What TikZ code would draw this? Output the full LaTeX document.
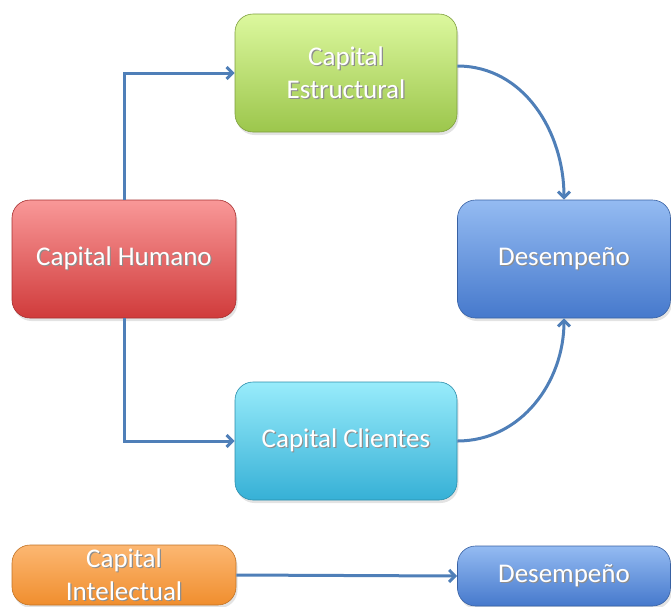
\documentclass[tikz,border=0pt]{standalone}
\usepackage{fontspec}
\setmainfont{Carlito}
\usetikzlibrary{arrows.meta,shadows}

\definecolor{linkblue}{HTML}{4F7FB8}
\definecolor{shtxt}{HTML}{404040}
\definecolor{grtop}{HTML}{DCF89E}
\definecolor{grbot}{HTML}{9CC64C}
\definecolor{rdtop}{HTML}{F99898}
\definecolor{rdbot}{HTML}{D03B3B}
\definecolor{bltop}{HTML}{94BBF2}
\definecolor{blbot}{HTML}{4679CC}
\definecolor{cytop}{HTML}{98ECFB}
\definecolor{cybot}{HTML}{36B0D6}
\definecolor{ortop}{HTML}{FCB772}
\definecolor{orbot}{HTML}{F08E2E}

% white label with a soft offset copy behind it
\newcommand{\shline}[1]{\rlap{\hspace{1.2pt}\raisebox{-1.2pt}{\textcolor{shtxt!60}{#1}}}#1}

\tikzset{
  box/.style={rounded corners=18pt, draw=#1, line width=0.6pt,
    text=white, align=center, inner sep=0pt,
    font=\fontsize{27}{33}\selectfont,
    drop shadow={opacity=0.22, shadow xshift=1.5pt, shadow yshift=-3pt}},
  link/.style={draw=linkblue, line width=3pt,
    -{Straight Barb[length=6pt,width=12pt,line width=3pt]}},
}

\begin{document}
\begin{tikzpicture}[x=1pt,y=-1pt]
\useasboundingbox (0,0) rectangle (671,606);

\node[box=grbot!80!black, top color=grtop, bottom color=grbot,
      minimum width=222pt, minimum height=118pt] (estr) at (346,73)
      {\shline{Capital}\\\shline{Estructural}};

\node[box=rdbot!80!black, top color=rdtop, bottom color=rdbot,
      minimum width=224pt, minimum height=118pt] (hum) at (124,259)
      {\shline{Capital Humano}};

\node[box=blbot!80!black, top color=bltop, bottom color=blbot,
      minimum width=213pt, minimum height=118pt] (des) at (564,259)
      {\shline{Desempeño}};

\node[box=cybot!80!black, top color=cytop, bottom color=cybot,
      minimum width=222pt, minimum height=118pt] (cli) at (346,441)
      {\shline{Capital Clientes}};

\node[box=orbot!80!black, top color=ortop, bottom color=orbot,
      minimum width=224pt, minimum height=60pt] (int) at (124,575)
      {\shline{Capital}\\\shline{Intelectual}};

\node[box=blbot!80!black, top color=bltop, bottom color=blbot,
      minimum width=213pt, minimum height=60pt] (des2) at (564,576)
      {\shline{Desempeño}};

\draw[link] (hum.north) |- (estr.west);
\draw[link] (hum.south) |- (cli.west);
\draw[link] ([yshift=7pt]estr.east) to[out=0,in=90] (des.north);
\draw[link] (cli.east) to[out=0,in=-90] (des.south);
\draw[link] (int.east) -- (des2.west);
\end{tikzpicture}
\end{document}
